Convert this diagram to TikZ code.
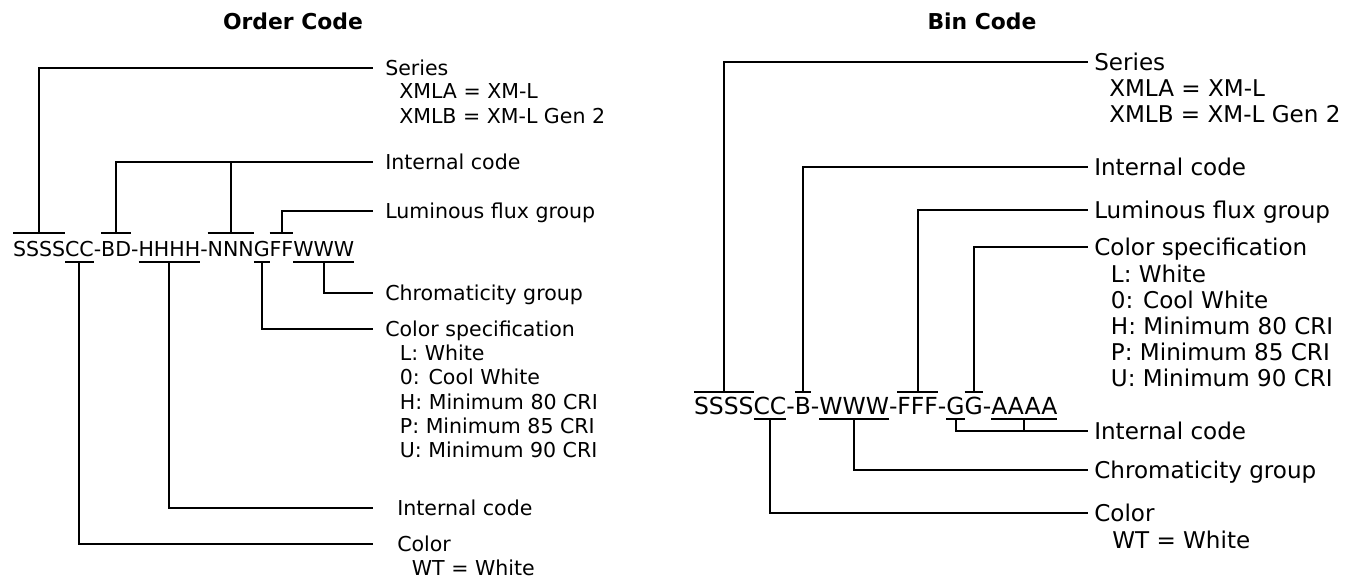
\documentclass[tikz,border=0pt]{standalone}
\usepackage{fontspec}
\setmainfont{DejaVu Sans}
\usetikzlibrary{positioning}
\tikzset{
  wire/.style={line width=1.5pt},
  title/.style={font=\fontsize{16.4}{19}\selectfont\bfseries},
  lseg/.style={inner sep=0pt, outer sep=0pt, anchor=base west, text height=18pt, text depth=3.75pt, font=\fontsize{15.4}{18}\selectfont},
  rseg/.style={inner sep=0pt, outer sep=0pt, anchor=base west, text height=16.5pt, text depth=3.75pt, font=\fontsize{17.6}{20}\selectfont},
  llab/.style={anchor=west, inner ysep=0pt, inner xsep=9pt, text height=11.2pt, text depth=0pt, font=\fontsize{15.4}{18}\selectfont},
  litems/.style={inner sep=0pt, align=left, font=\fontsize{15.4}{18.2}\selectfont},
  rlab/.style={anchor=west, inner ysep=0pt, inner xsep=4.5pt, text height=12.6pt, text depth=0pt, font=\fontsize{17.3}{20}\selectfont},
  ritems/.style={inner sep=0pt, align=left, font=\fontsize{17.3}{19.5}\selectfont}
}
\begin{document}
\begin{tikzpicture}[x=0.75pt, y=-0.75pt]
  \useasboundingbox (0,0) rectangle (1351,580);

  % titles
  \node[title] (tOrder) at (293,21) {Order Code};
  \node[title] (tBin) at (982,21) {Bin Code};

  % order code
  \node[lseg] (sS) at (13,257) {SSSS};
  \node[lseg, base right=0pt of sS] (sC) {CC};
  \node[lseg, base right=0pt of sC] (d1) {-};
  \node[lseg, base right=0pt of d1] (sBD) {BD};
  \node[lseg, base right=0pt of sBD] (d2) {-};
  \node[lseg, base right=0pt of d2] (sH) {HHHH};
  \node[lseg, base right=0pt of sH] (d3) {-};
  \node[lseg, base right=0pt of d3] (sN) {NNN};
  \node[lseg, base right=0pt of sN] (sG) {G};
  \node[lseg, base right=0pt of sG] (sF) {FF};
  \node[lseg, base right=0pt of sF] (sW) {WWW};

  \node[llab] (lSeries) at (373,68) {Series};
  \node[litems, below right=6pt and 19.5pt of lSeries.south west] (iSeries) {XMLA = XM-L\\XMLB = XM-L Gen 2};
  \node[llab] (lInt) at (373,162) {Internal code};
  \node[llab] (lLum) at (373,211) {Luminous flux group};
  \node[llab] (lChrom) at (373,293) {Chromaticity group};
  \node[llab] (lCspec) at (373,329) {Color specification};
  \node[litems, below right=6pt and 20pt of lCspec.south west] (iCspec) {L: White\\0: Cool White\\H: Minimum 80 CRI\\P: Minimum 85 CRI\\U: Minimum 90 CRI};
  \node[llab, inner xsep=18pt] (lInt2) at (373,508) {Internal code};
  \node[llab, inner xsep=18pt] (lColor) at (373,544) {Color};
  \node[litems, below right=6pt and 29pt of lColor.south west] (iColor) {WT = White};

  \foreach \s in {sS,sBD,sN,sF} \draw[wire] (\s.north west) -- (\s.north east);
  \foreach \s in {sC,sH,sG,sW} \draw[wire] (\s.south west) -- (\s.south east);

  \draw[wire] (sS.north) |- (lSeries.west);
  \draw[wire] (sBD.north) |- (lInt.west);
  \draw[wire] (sN.north) -- (sN.north |- lInt.west);
  \draw[wire] (sF.north) |- (lLum.west);
  \draw[wire] (sW.south) |- (lChrom.west);
  \draw[wire] (sG.south) |- (lCspec.west);
  \draw[wire] (sH.south) |- (lInt2.west);
  \draw[wire] (sC.south) |- (lColor.west);

  % bin code
  \node[rseg] (rS) at (694,414) {SSSS};
  \node[rseg, base right=0pt of rS] (rC) {CC};
  \node[rseg, base right=0pt of rC] (rd1) {-};
  \node[rseg, base right=0pt of rd1] (rB) {B};
  \node[rseg, base right=0pt of rB] (rd2) {-};
  \node[rseg, base right=0pt of rd2] (rW) {WWW};
  \node[rseg, base right=0pt of rW] (rd3) {-};
  \node[rseg, base right=0pt of rd3] (rF) {FFF};
  \node[rseg, base right=0pt of rF] (rd4) {-};
  \node[rseg, base right=0pt of rd4] (rG1) {G};
  \node[rseg, base right=0pt of rG1] (rG2) {G};
  \node[rseg, base right=0pt of rG2] (rd5) {-};
  \node[rseg, base right=0pt of rd5] (rA) {AAAA};

  \node[rlab] (rlSeries) at (1088,62) {Series};
  \node[ritems, below right=6.9pt and 15.75pt of rlSeries.south west] (riSeries) {XMLA = XM-L\\XMLB = XM-L Gen 2};
  \node[rlab] (rlInt) at (1088,167) {Internal code};
  \node[rlab] (rlLum) at (1088,210) {Luminous flux group};
  \node[rlab] (rlCspec) at (1088,247) {Color specification};
  \node[ritems, below right=6.9pt and 17pt of rlCspec.south west] (riCspec) {L: White\\0: Cool White\\H: Minimum 80 CRI\\P: Minimum 85 CRI\\U: Minimum 90 CRI};
  \node[rlab] (rlInt2) at (1088,431) {Internal code};
  \node[rlab] (rlChrom) at (1088,470) {Chromaticity group};
  \node[rlab] (rlColor) at (1088,513) {Color};
  \node[ritems, below right=6.9pt and 18pt of rlColor.south west] (riColor) {WT = White};

  \foreach \s in {rS,rB,rF,rG2} \draw[wire] (\s.north west) -- (\s.north east);
  \foreach \s in {rC,rW,rG1,rA} \draw[wire] (\s.south west) -- (\s.south east);

  \draw[wire] (rS.north) |- (rlSeries.west);
  \draw[wire] (rB.north) |- (rlInt.west);
  \draw[wire] (rF.north) |- (rlLum.west);
  \draw[wire] (rG2.north) |- (rlCspec.west);
  \draw[wire] (rG1.south) |- (rlInt2.west);
  \draw[wire] (rA.south) -- (rA.south |- rlInt2.west);
  \draw[wire] (rW.south) |- (rlChrom.west);
  \draw[wire] (rC.south) |- (rlColor.west);
\end{tikzpicture}
\end{document}
